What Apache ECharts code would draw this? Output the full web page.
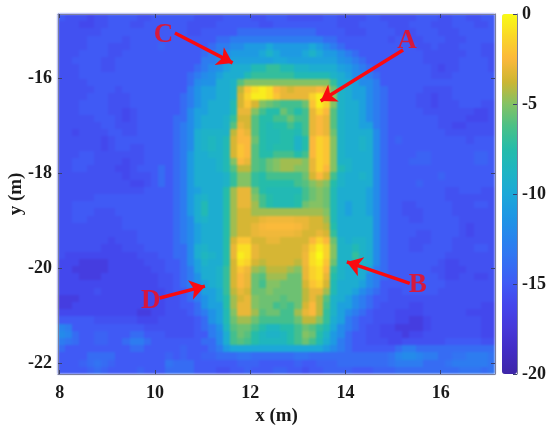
<!DOCTYPE html>
<html>
<head>
<meta charset="utf-8">
<style>
  html, body { margin: 0; padding: 0; background: #fff; }
  #main { width: 550px; height: 430px; }
  /* the map sits alone on the bottom canvas layer, soft like the source image */
  #main canvas:first-child { filter: blur(1.1px); }
</style>
<script src="https://cdn.jsdelivr.net/npm/echarts@6/dist/echarts.min.js"></script>
</head>
<body>
<div id="main"></div>
<script>
// axis extents in metres and dB range of the colour bar
const xExtent = [7.965, 17.14]
const yExtent = [-22.23, -14.65]
const xTicks = [8, 10, 12, 14, 16]
const yTicks = [-22, -20, -18, -16]
const colorTicks = [-20, -15, -10, -5, 0]

// parula (bottom to top, every 1.25 dB)
const barColors = ['#3e26a8', '#422cc3', '#4638d8', '#4444eb', '#405af5', '#3470f3', '#2884ee', '#1e96e4', '#1ca8d8', '#1eb4c3', '#25bcaa', '#4bc087', '#84c264', '#cdb632', '#fbb83c', '#fad728', '#f9fb15']

// annotations in data coordinates
const arrowNames = ['A', 'B', 'C', 'D']
const arrowFrom = [[15.21, -15.41], [15.35, -20.32], [10.42, -15.05], [10.1, -20.63]]
const arrowTo = [[13.48, -16.48], [14.03, -19.87], [11.63, -15.68], [11.05, -20.38]]
const labelAt = [[15.29, -15.2], [15.52, -20.34], [10.18, -15.09], [9.91, -20.69]]

// map values, top row first, left to right
const rows = [
[-15,-15.5,-15.5,-15.5,-16,-15.5,-15.5,-15,-15,-15,-15,-15.5,-15.5,-15,-15, -15,-15,-15,-15,-15.5,-15.5,-15.5,-15.5,-15,-15,-15,-15,-15.5,-15.5,-15,-15,-15,-15.5,-15.5,-15.5,-15.5,-15.5,-15,-15,-15.5,-15.5,-15.5,-15.5,-15,-15,-15.5,-15.5, -15.5,-15.5,-15.5,-15,-15,-15,-15.5,-15.5,-15,-15,-15.5,-15.5,-15,-15],
[-15.5,-15.5,-15.5,-16,-16,-15.5,-15.5,-15,-15,-15,-15.5,-15.5,-15,-15,-15, -15,-15,-15,-15.5,-15.5,-15.5,-15.5,-15,-15,-15,-15,-15,-15,-15.5,-15.5,-15,-15,-15,-15,-15,-15,-15,-15,-15,-15.5,-15.5,-15.5,-15,-15,-15,-15,-15.5, -15.5,-15.5,-15,-15,-15,-15.5,-15.5,-15.5,-15,-15,-15,-15.5,-15.5,-15],
[-15.5,-15.5,-15.5,-15.5,-15.5,-15.5,-15,-15,-15,-15,-15,-15,-15,-15,-15, -15,-15,-15,-15.5,-15.5,-15,-15,-15,-15,-15,-14,-14,-14,-14,-14,-14,-14,-14,-14,-14,-14,-15,-15,-15,-15,-15.5,-15.5,-15.5,-15,-15,-15,-15, -15.5,-15.5,-15.5,-15,-15,-15,-15.5,-15.5,-15.5,-15,-15,-15,-15,-15],
[-15.5,-15.5,-15.5,-15.5,-15,-15,-15,-15,-15,-15.5,-15,-15,-15,-15,-15, -15,-15,-15,-15,-15,-15,-15,-14,-14,-13,-13,-13,-13,-13,-13,-13,-13,-13,-13,-13,-13,-13,-14,-14,-15,-15,-15,-15,-15,-15,-15,-15.5, -15,-15,-15.5,-15.5,-15,-15,-15,-15.5,-15.5,-15.5,-15,-15,-15,-15],
[-15.5,-15.5,-15.5,-15.5,-15,-15,-15,-15.5,-15.5,-15.5,-15,-15,-15,-15,-14.5, -15,-15,-15,-15,-15,-15,-14,-13,-13,-12,-12,-11,-11,-11,-10,-11,-11,-11,-11,-11,-10,-11,-12,-13,-14,-15,-15,-15,-15,-15,-15,-15, -15,-15,-15,-15.5,-15.5,-15,-15.5,-15.5,-15.5,-15,-15,-15,-15.5,-15.5],
[-15.5,-15.5,-15.5,-15,-15,-15,-15,-15.5,-15.5,-15,-15,-15,-15,-15,-15, -15,-15,-15,-15,-15,-14,-13,-13,-12,-11,-11,-11,-11,-10,-9,-10,-11,-11,-11,-10,-9,-10,-11,-11,-12,-13,-14,-15,-15,-15,-15,-15, -15,-15,-15,-15,-15.5,-15.5,-15.5,-15.5,-15.5,-15.5,-15,-15,-15.5,-15.5],
[-15.5,-15.5,-15,-15,-15,-15,-15.5,-15.5,-15,-15,-15,-15,-15,-15,-15, -15,-15,-15,-15,-15,-13,-13,-12,-11.5,-10.5,-10.5,-10.5,-10.5,-10.5,-10.5,-10,-10,-10.5,-10.5,-10.5,-10.5,-10.5,-10.5,-10.5,-11.5,-12,-13,-14,-15,-15,-15,-15, -15,-15,-15,-15,-15.5,-15.5,-15.5,-15.5,-15.5,-15,-15,-15,-15,-15.5],
[-15.5,-15.5,-15.5,-15,-15,-15,-15.5,-15.5,-15,-15,-15,-15,-15,-15,-15, -15,-15,-15,-15,-14,-13,-12,-11.5,-10.5,-9.5,-9.5,-9.5,-8,-8,-7,-7,-8,-8,-9,-9,-9.5,-9.5,-9.5,-9.5,-10.5,-11,-12,-13,-14,-15,-15,-15, -15,-15,-15,-15,-15,-15.5,-16,-15.5,-15.5,-15,-15,-15,-15,-15.5],
[-15.5,-15.5,-15.5,-15,-15,-15,-15,-15,-15,-15,-15,-15,-15,-15,-15, -15,-15,-15,-14,-13,-12,-11.5,-10.5,-9.5,-9.5,-9.5,-8,-7,-7,-7,-7,-7,-7,-8,-8,-8,-8,-8,-9,-9.5,-10.5,-12,-12,-13,-14,-15,-15, -15,-15,-15,-15,-15,-15.5,-15.5,-15.5,-15,-15,-15,-15,-15,-15],
[-15.5,-15.5,-15.5,-15.5,-15,-15,-15,-15,-15,-15,-15,-15,-15,-15,-15, -15,-15,-15,-14,-12,-11.5,-11.5,-9.5,-9.5,-9,-6,-5,-5,-5,-5,-5,-5,-5,-5,-5,-5,-5,-5,-7,-9.5,-9.5,-10.5,-12,-12,-13,-15,-15, -15,-15,-15,-15,-15,-15,-15,-15,-15,-15,-15,-15,-15,-15],
[-15.5,-15.5,-15.5,-15.5,-15.5,-15,-15,-15,-15.5,-15,-15,-15,-15,-15,-15, -15,-15,-15,-13,-11.5,-10.5,-10.5,-9.5,-9.5,-9,-4,-2,-1,-0.5,-1,-2.5,-3,-3.5,-3,-3,-3,-2.5,-3,-5.5,-9,-9.5,-10.5,-10.5,-12,-13,-14,-15, -15,-15,-15,-15,-15.5,-15.5,-15.5,-15.5,-15,-15,-15,-15,-15,-15],
[-15.5,-15.5,-15.5,-15.5,-15,-15,-15,-15.5,-15.5,-15.5,-15,-15,-15,-15,-15, -15,-15,-14,-13,-11.5,-10.5,-10.5,-9.5,-9.5,-9,-3.5,-1.5,-0.5,-0.5,-1,-2,-3,-3,-3,-3,-1.5,-0.5,-1.5,-5,-9,-9.5,-10.5,-10.5,-12,-13,-14,-15, -15,-15,-15,-15.5,-15.5,-16,-15.5,-15.5,-15,-15,-15,-15,-15,-15],
[-15.5,-15.5,-15.5,-15,-15,-15,-15,-15.5,-15.5,-15.5,-15,-15,-15,-15,-15, -15,-15,-14,-13,-11.5,-10.5,-9.5,-9.5,-9.5,-8,-3.5,-2,-3.5,-5,-5.5,-6,-6.5,-6.5,-6.5,-5.5,-2,-0.5,-1.5,-5,-9,-9.5,-9.5,-10.5,-12,-13,-14,-15, -15,-15,-15,-15.5,-15.5,-16,-15.5,-15.5,-15.5,-15,-15,-15,-15.5,-15.5],
[-15.5,-15.5,-15.5,-15,-15,-15,-15,-15.5,-15.5,-16,-15.5,-15,-15,-15,-15, -15,-15,-14,-12,-10.5,-10.5,-9.5,-9.5,-9.5,-8,-3,-3,-5,-6.5,-7.5,-7.5,-5.5,-6.5,-7.5,-6.5,-3,-1.5,-2.5,-6,-9,-9.5,-9.5,-10.5,-12,-13,-14,-15, -15,-15,-15,-15,-15.5,-15.5,-15.5,-15.5,-15.5,-15.5,-15.5,-16,-16,-15.5],
[-15.5,-15.5,-15.5,-15.5,-15.5,-15,-15,-15,-15.5,-16,-15.5,-15,-15,-15,-15, -15,-14,-14,-12,-10.5,-9.5,-9.5,-9.5,-9,-7,-3.5,-3.5,-6,-7.5,-7.5,-6.5,-6.5,-5.5,-6.5,-6.5,-3,-2.5,-3,-6,-9,-9.5,-9.5,-10.5,-12,-13,-14,-15, -15,-15,-15,-15,-15,-15,-15.5,-15.5,-15.5,-15.5,-16,-16,-16,-15.5],
[-15.5,-15.5,-15.5,-15.5,-15.5,-15.5,-15,-15,-15.5,-15.5,-15.5,-15,-15,-15,-15, -15,-14,-13,-12,-10.5,-9.5,-9.5,-9.5,-9,-6,-3,-3.5,-6,-7.5,-8,-7.5,-7.5,-6.5,-7.5,-6.5,-3,-2.5,-3,-6,-9,-9.5,-9.5,-10.5,-10.5,-13,-14,-15, -15,-15,-15,-15,-15,-15,-15.5,-15.5,-16,-16,-15.5,-15.5,-15.5,-15.5],
[-15.5,-15.5,-16,-15.5,-15.5,-15.5,-15.5,-15,-15,-15.5,-15.5,-15,-15,-15,-15, -15,-14,-13,-12,-9.5,-9,-9,-9,-9,-4,-2.5,-3,-6,-7.5,-8,-8,-7.5,-7.5,-8,-6.5,-3,-2.5,-3,-5.5,-9,-9.5,-9.5,-9.5,-9.5,-12,-14,-15, -15,-15,-15,-15,-15,-15,-15,-15.5,-15.5,-15.5,-15.5,-15.5,-15.5,-15.5],
[-15.5,-15.5,-15.5,-15.5,-15.5,-15.5,-16,-15.5,-15,-15,-15,-15,-15,-15,-15, -15,-14,-13,-12,-9.5,-9,-8.5,-9,-8,-3.5,-2.5,-2.5,-5.5,-7.5,-8,-8,-7.5,-7.5,-9,-7.5,-2.5,-1.5,-2,-5,-9,-9.5,-9.5,-9,-9.5,-12,-14,-15, -14.5,-15,-15,-15,-15,-15,-15,-15,-15,-15,-15.5,-15,-15,-15],
[-15.5,-15.5,-15.5,-15.5,-15.5,-15.5,-16,-15.5,-15,-15,-15.5,-15.5,-15,-15,-15, -15,-14,-13,-12,-9.5,-9,-8.5,-9,-8,-3.5,-2,-2.5,-6,-7.5,-8,-7.5,-7.5,-7.5,-9,-7.5,-2.5,-1.5,-2,-5,-9,-9.5,-9.5,-9,-9.5,-12,-14,-15, -15,-15,-15,-15,-15,-15,-15,-15,-15,-15,-15,-15,-15,-15],
[-15.5,-15.5,-15.5,-15,-15,-15.5,-15.5,-15.5,-15.5,-15.5,-15.5,-15.5,-15,-15,-15, -15,-14,-13,-11,-9.5,-9.5,-9,-9,-8,-3.5,-2,-2.5,-6,-7.5,-7.5,-6.5,-6.5,-6.5,-7.5,-6.5,-2.5,-1.5,-2,-5,-9,-9.5,-9.5,-9.5,-9.5,-12,-14,-15, -15,-15,-15,-14.5,-14.5,-15,-15,-15,-15,-15,-15,-14.5,-14.5,-15],
[-15.5,-15.5,-15,-15,-15,-15.5,-15.5,-15.5,-15.5,-16,-15.5,-15.5,-15,-15,-15, -15,-14,-13,-11,-9.5,-9.5,-9.5,-9,-8,-5,-2.5,-3,-6,-6.5,-5.5,-5,-4.5,-4.5,-4.5,-5,-3,-1.5,-2,-5,-9,-9,-9.5,-9.5,-9.5,-12,-14,-15, -15,-15,-14.5,-14.5,-14.5,-15,-15,-15,-15,-15,-15,-14.5,-14.5,-15],
[-15.5,-15.5,-15,-15,-15.5,-15.5,-15.5,-15.5,-16,-16,-15.5,-15,-15,-15,-14, -15,-14,-13,-11,-9.5,-9.5,-9.5,-9,-8,-6,-4,-4,-6,-6.5,-5.5,-5,-4.5,-4.5,-5,-5,-3,-1.5,-2.5,-5,-8,-9,-9.5,-9.5,-9.5,-12,-14,-15, -15,-15,-15,-15,-15,-15,-15,-15,-15,-15,-15,-15,-15,-15],
[-15.5,-15.5,-15.5,-15.5,-15.5,-15.5,-15.5,-15.5,-15.5,-16,-15.5,-15.5,-15.5,-15,-14, -15,-14,-13,-11,-9.5,-9.5,-9.5,-9.5,-9,-7,-5,-5,-7,-7.5,-6.5,-6.5,-6.5,-6.5,-6.5,-5.5,-3.5,-2.5,-3.5,-6.5,-9,-9.5,-9.5,-9,-9.5,-12,-14,-15, -15,-15,-15,-15,-15,-15,-14.5,-15,-15,-15,-15,-15,-15,-15],
[-15.5,-15.5,-15.5,-15.5,-15.5,-15.5,-15.5,-15.5,-15.5,-15.5,-16,-16,-15.5,-15,-14, -15,-14,-13,-11,-9.5,-9.5,-9.5,-9.5,-9,-7,-5,-5,-7,-7.5,-7.5,-7.5,-7.5,-7.5,-6.5,-6,-5,-4.5,-5,-7.5,-9,-9.5,-9.5,-9.5,-9.5,-12,-14,-15, -15,-15,-15,-14.5,-15,-15,-15,-15,-15,-15,-15,-15,-15,-15],
[-15.5,-15.5,-15.5,-15.5,-15.5,-15.5,-15.5,-15.5,-15.5,-15.5,-15.5,-15.5,-15,-15,-15, -15,-14,-13,-11,-10.5,-9.5,-9.5,-9.5,-7.5,-4.5,-3,-3,-5.5,-7.5,-8,-8,-8,-8,-8,-6.5,-5.5,-5,-5.5,-8,-9.5,-9.5,-9.5,-9.5,-10.5,-12,-14,-15, -15,-15,-15,-15,-15,-15,-15,-15.5,-15.5,-15,-15,-15,-15.5,-15.5],
[-15.5,-15.5,-15.5,-15.5,-15.5,-15,-15,-15,-15,-15,-15,-15,-15,-15,-15, -15,-14,-13,-11,-9.5,-9,-9.5,-9.5,-7.5,-4.5,-3,-3,-5,-6.5,-7.5,-8,-8,-8,-7.5,-6.5,-5.5,-5,-5.5,-8,-9.5,-9.5,-9.5,-9.5,-10.5,-12,-14,-15, -15,-15,-15,-15,-15,-15,-15,-15.5,-15.5,-15.5,-15.5,-15.5,-15.5,-15.5],
[-15.5,-15.5,-15,-15,-15,-15,-15,-15,-15,-15,-15,-15,-15,-15,-15, -15,-14,-13,-11,-9.5,-8,-9.5,-9.5,-7.5,-4.5,-3,-3,-4.5,-6.5,-7.5,-8,-8,-8,-7.5,-5.5,-5,-5,-5.5,-8,-9.5,-10.5,-9.5,-9.5,-10.5,-12,-14,-15, -15,-15.5,-15.5,-15,-15,-15,-15,-15,-15.5,-15.5,-15.5,-15,-15,-15.5],
[-15.5,-15.5,-15,-15,-15,-15.5,-15.5,-15.5,-15,-15,-15,-15,-15,-15,-15, -15,-14,-13,-11,-9.5,-8,-9.5,-9.5,-7.5,-4.5,-3.5,-3.5,-4.5,-4.5,-4.5,-4.5,-4.5,-4.5,-4.5,-4.5,-4.5,-4.5,-5,-8,-9.5,-10.5,-9.5,-9.5,-10.5,-12,-14,-15, -15,-15.5,-15.5,-15.5,-15,-15,-15,-15,-15.5,-15.5,-15.5,-15.5,-15.5,-15.5],
[-15.5,-15.5,-15,-15,-15.5,-15.5,-15.5,-15.5,-15.5,-15,-15,-15,-15,-15,-15, -15,-14,-13,-12,-9.5,-9,-9.5,-9.5,-7.5,-4.5,-3.5,-3.5,-3.5,-3,-2.8,-2.8,-2.8,-2.8,-3,-3,-3.5,-3.5,-4.5,-8,-9.5,-9.5,-9.5,-9.5,-9.5,-12,-14,-15, -15,-15,-15.5,-15.5,-15,-15,-15,-15,-15,-15.5,-15.5,-15.5,-15.5,-15.5],
[-15.5,-15.5,-15.5,-15.5,-15.5,-15.5,-15.5,-15.5,-15.5,-15,-15,-15,-15,-15,-15, -15,-14,-13,-12,-10.5,-9.5,-9.5,-9.5,-7.5,-4.5,-3.5,-3.5,-3,-2.6,-2.4,-2.4,-2.4,-2.4,-2.6,-3,-3.5,-3.5,-4,-7.5,-9.5,-9.5,-9.5,-9.5,-9.5,-12,-14,-15, -15,-15,-15,-15,-15,-15,-15,-15,-15,-15.5,-16,-15.5,-15.5,-15.5],
[-15.5,-15.5,-15.5,-15.5,-15.5,-15.5,-15.5,-15.5,-15.5,-15.5,-15.5,-15,-15,-15,-15, -15,-14,-13,-12,-10.5,-9.5,-9.5,-9.5,-7.5,-4.5,-3.5,-3.5,-3,-2.8,-2.8,-2.8,-2.8,-2.8,-3,-3.5,-3.5,-3,-3.5,-7,-9.5,-9.5,-9.5,-9.5,-9.5,-12,-14,-15, -15,-15,-15,-15.5,-15.5,-15,-15,-15,-15,-15.5,-16,-15.5,-15.5,-15.5],
[-15.5,-15.5,-15.5,-15.5,-15.5,-15.5,-15.5,-16,-15.5,-15.5,-15.5,-15,-15,-15,-15, -15,-14,-13,-12,-10.5,-9.5,-9.5,-9.5,-7.5,-3.5,-2,-2,-3.5,-3.5,-3,-3,-3.5,-3.5,-3.5,-3.5,-2.5,-1.5,-2.5,-5.5,-9,-9.5,-9,-9,-9.5,-12,-14,-15, -15,-15,-15.5,-15.5,-15.5,-15,-15,-15,-15.5,-15.5,-15.5,-15.5,-15.5,-15.5],
[-15.5,-15.5,-15.5,-15.5,-15.5,-15.5,-16,-16,-16,-15.5,-15.5,-15.5,-15,-15,-15, -15,-14,-14,-12,-9.5,-9,-9.5,-9.5,-7.5,-3,-1,-1,-3,-3.5,-3.5,-3.5,-3.5,-3.5,-3.5,-3,-1.5,-0.5,-1.5,-5,-9,-9,-8,-9,-9.5,-12,-14,-15, -15,-15,-15.5,-15.5,-15,-15,-15,-15,-15.5,-15.5,-15.5,-15,-15,-15.5],
[-15.5,-16,-16,-16,-16,-16,-16,-16,-16,-16,-16,-15.5,-15.5,-15.5,-15, -15,-14,-14,-12,-9.5,-8.5,-9,-9.5,-7.5,-3,-0.5,-1,-3,-3.5,-3.5,-3.5,-3.5,-3.5,-3.5,-2.8,-1,0,-1.5,-5,-9,-9,-7,-9,-9.5,-12,-14,-15, -15,-15,-15,-15,-15,-15,-15,-15.5,-15.5,-15.5,-15.5,-15.5,-15.5,-15.5],
[-16,-16,-16,-17,-17,-17,-17,-16,-16,-16,-16,-16,-15.5,-15.5,-15.5, -15,-15,-14,-12,-10.5,-9,-9.5,-9.5,-7.5,-3.5,-1,-1.5,-3.5,-4,-3.5,-3.5,-3.5,-3.5,-4,-2.8,-1,-0.5,-2,-5.5,-9,-9,-8,-9,-9.5,-12,-14,-15, -15,-15,-15,-15,-15,-15,-15.5,-16,-16,-15.5,-15.5,-15.5,-15.5,-15.5],
[-16,-16,-17,-17,-17,-17,-17,-16,-16,-16,-16,-16,-16,-15.5,-15.5, -15,-15,-14,-13,-10.5,-9.5,-9.5,-9,-7,-3.5,-2,-2.8,-4.5,-5,-4,-4,-4,-4.5,-5,-3,-1.5,-1,-2.5,-7,-9,-9.5,-9.5,-9.5,-10.5,-13,-14,-15, -15,-15,-15,-15,-15,-15.5,-15.5,-16,-16,-16,-15.5,-15.5,-15.5,-15.5],
[-16,-16,-16,-17,-17,-17,-16,-16,-16,-16,-16,-16,-16,-16,-15.5, -15.5,-15,-14,-13,-11.5,-9.5,-9.5,-9,-7,-3.5,-2.5,-3,-5.5,-6,-4.5,-4.5,-4.5,-5.5,-5.5,-3,-1.5,-1,-3,-7.5,-9,-9.5,-9.5,-9.5,-12,-13,-14,-15, -15,-15,-15,-15,-15,-15,-15.5,-16,-16,-15.5,-15.5,-16,-16,-15.5],
[-16,-16,-16,-16,-16,-16,-16,-16,-16,-16,-16,-16,-16,-16,-15.5, -15.5,-15,-14,-13,-11.5,-10.5,-9.5,-9,-7,-3.5,-2.5,-3,-5.5,-6.5,-5,-5,-5.5,-5.5,-5.5,-3.5,-2,-1.5,-3.5,-8,-9.5,-9.5,-9.5,-10.5,-12,-13,-15,-15, -15,-15,-15,-15,-15,-15,-15,-15.5,-15.5,-15.5,-15.5,-15.5,-15.5,-15.5],
[-16,-16,-16,-16,-16,-15.5,-16,-16,-16,-16,-16,-16,-16,-16,-16, -15.5,-15,-15,-14,-13,-10.5,-10.5,-9.5,-7,-4,-3,-3.5,-5.5,-5.5,-5,-5.5,-5.5,-5.5,-5.5,-4,-3,-3,-4.5,-8,-9.5,-9.5,-10.5,-12,-13,-14,-15,-15.5, -15.5,-15,-15,-15,-15,-15,-15.5,-15.5,-15.5,-15.5,-15.5,-15.5,-15.5,-15.5],
[-17,-17,-17,-16,-16,-16,-16,-16,-16,-16,-16,-16,-16,-16,-16, -15.5,-15.5,-15,-14,-13,-11.5,-10.5,-9.5,-7.5,-4.5,-3.5,-3,-5,-5.5,-5.5,-5.5,-6,-5.5,-5.5,-4,-3,-4,-6,-9,-9.5,-10.5,-12,-13,-14,-15,-15,-15.5, -15.5,-15.5,-15.5,-15.5,-15.5,-15.5,-15.5,-15.5,-15.5,-15.5,-15.5,-15.5,-15.5,-15.5],
[-17,-17,-16,-16,-16,-16,-16,-16,-16,-16,-16,-16,-16,-16,-16, -15.5,-15.5,-15,-15,-14,-11.5,-10.5,-10.5,-7.5,-4.5,-3,-3,-5,-5.5,-5.5,-6.5,-6,-6.5,-5.5,-3.5,-2.5,-4,-6.5,-9,-10.5,-10.5,-12,-13,-14,-15,-15.5,-15.5, -15.5,-15.5,-16,-16,-15.5,-15.5,-15.5,-15.5,-15.5,-15.5,-15.5,-15.5,-16,-16],
[-16,-16,-16,-16,-16,-16,-16,-16,-16,-16,-16,-17,-17,-16,-16, -15.5,-15.5,-15.5,-15,-14,-13,-11.5,-10.5,-8,-5,-3,-3,-4.5,-6,-5.5,-5.5,-6.5,-6.5,-4.5,-3,-2.5,-4,-7,-9,-10.5,-12,-13,-14,-15,-15.5,-15.5,-15.5, -16,-16,-16,-16,-15.5,-15.5,-15.5,-15.5,-15.5,-15.5,-16,-16,-16,-16],
[-15,-15,-15,-15,-15,-15.5,-15.5,-15.5,-15.5,-15.5,-15.5,-16,-16,-16,-15.5, -15.5,-15.5,-15.5,-15.5,-15,-14,-11.5,-10.5,-8,-5.5,-4.5,-4.5,-5.5,-6.5,-6.5,-6.5,-6.5,-6.5,-5.5,-4,-4,-5,-7,-9.5,-10.5,-13,-14,-15,-15,-15.5,-15.5,-15.5, -16,-16,-17,-17,-16,-15.5,-15.5,-15.5,-15.5,-15.5,-15.5,-15.5,-16,-16],
[-12.5,-13,-15,-15,-15,-15,-15,-15,-15,-15,-15,-15,-15.5,-15.5,-15.5, -15.5,-15.5,-15.5,-15.5,-15,-14,-13,-11.5,-8.5,-6,-5.5,-5.5,-6.5,-7.5,-8.5,-8.5,-7.5,-7.5,-6.5,-5.5,-6,-7,-8,-10,-12,-13,-14,-15,-15.5,-15.5,-16,-16, -17,-17,-17,-17,-16,-15.5,-15.5,-15.5,-15.5,-15.5,-15.5,-15.5,-16,-16],
[-12,-12.5,-14,-15,-15,-14.5,-14.5,-15,-15,-15,-14,-14,-15,-15,-15, -15.5,-15.5,-15.5,-15.5,-15,-15,-13,-12,-9.5,-6.5,-5.5,-6,-7.5,-8.5,-9,-9,-8.5,-7.5,-6.5,-5,-5.5,-7.5,-9,-11,-12,-14,-15,-15,-15.5,-15.5,-16,-16, -16,-17,-16,-16,-15.5,-15.5,-15.5,-15.5,-15.5,-15.5,-15.5,-15.5,-16,-16],
[-13,-13.5,-14,-15,-15,-14.5,-14.5,-15,-15,-14,-13,-13,-14,-15,-15, -15,-15,-15,-15,-15,-14,-14,-12,-9.5,-6.5,-6,-6.5,-7.5,-8.5,-8.5,-8.5,-8.5,-7.5,-6.5,-5.5,-6.5,-8,-9.5,-11,-13,-14,-15,-15,-15.5,-15.5,-15.5,-16, -16,-15.5,-15.5,-15.5,-15.5,-15.5,-15.5,-15,-15,-15,-15,-15,-15.5,-15.5],
[-14,-15,-15,-15,-15,-15,-15,-15,-15,-15,-14,-14,-15,-15,-15, -15,-15,-14.5,-15,-15,-15,-14,-13,-11,-10,-10,-10,-10,-10,-10,-10,-10,-10,-10,-10,-10,-10,-11,-12,-13,-14,-15,-15,-15,-15,-15,-15, -14,-13,-13,-14,-14,-14,-14,-14,-14,-14,-14,-14,-14,-14],
[-15,-15,-15,-15,-14,-14,-14,-14,-15,-15,-15,-15,-15,-15,-15, -14.5,-15,-14.5,-15,-15,-14.5,-14.5,-14,-14,-14,-13.5,-13.5,-14,-14,-14,-14,-14,-14,-13.5,-13.5,-14,-14,-14,-14,-14,-14,-14,-14,-14,-14,-14,-13.5, -12.5,-12,-12,-12.5,-13,-13,-14,-14,-13.5,-13.5,-13,-13,-13,-13.5],
[-15,-15,-15,-14.5,-14,-13.5,-14,-14.5,-15,-15,-15,-15,-15,-15,-15, -13.5,-14,-14,-14,-15,-15,-15,-15,-15,-15,-14.5,-14.5,-14.5,-15,-15,-15,-15,-15,-14.5,-15,-15,-14.5,-14.5,-14.5,-14,-14,-14,-14,-14,-14,-14,-13.5, -13,-13,-13,-13,-14,-14,-14,-13.5,-13,-13,-13,-13,-13,-13.5],
[-15,-15,-15,-15,-14.5,-14,-14.5,-15,-15,-15,-15,-14.5,-15,-15,-15, -14,-14,-14,-14,-15,-15,-15,-15.5,-15.5,-15,-15,-14.5,-15,-15,-15,-14.5,-14.5,-15,-15,-15.5,-15,-15,-14.5,-14.5,-14.5,-14.5,-15,-15,-15,-14.5,-14.5,-14.5, -14,-14,-14,-14,-14,-14,-14,-14,-14,-13.5,-13.5,-13.5,-14,-13.5]
]

// cell size follows from the axis extents and the grid shape
const nRows = rows.length
const nCols = rows[0].length
const cellW = (xExtent[1] - xExtent[0]) / nCols
const cellH = (yExtent[1] - yExtent[0]) / nRows

const cells = []
rows.forEach((row, j) => {
	row.forEach((v, i) => {
		cells.push([xExtent[0] + cellW * (i + 0.5), yExtent[1] - cellH * (j + 0.5), v])
	})
})

const serif = '"Liberation Serif", "Times New Roman", serif'
const frameColor = '#7b7f9c'
const tickColor = '#3a3f6e'
const textColor = '#1a1a1a'

function renderCell(params, api) {
	const x = api.value(0), y = api.value(1)
	const a = api.coord([x - cellW / 2, y + cellH / 2])
	const b = api.coord([x + cellW / 2, y - cellH / 2])
	const left = Math.round(a[0]), top = Math.round(a[1])
	return {
		type: 'rect',
		shape: { x: left, y: top, width: Math.round(b[0]) - left, height: Math.round(b[1]) - top },
		style: { fill: api.visual('color') }
	}
}

const chart = echarts.init(document.getElementById('main'), null, { renderer: 'canvas' })

const tickStyle = { show: true, inside: true, length: 4, lineStyle: { color: tickColor, width: 1 } }
const lineStyle = { show: true, onZero: false, lineStyle: { color: frameColor, width: 1 } }

chart.setOption({
	animation: false,
	grid: [
		{ left: 58, top: 14, width: 437, height: 360, outerBoundsMode: 'none' },
		{ left: 502, top: 14, width: 15, height: 360, outerBoundsMode: 'none' }
	],
	xAxis: [
		{
			type: 'value', gridIndex: 0, position: 'bottom', min: xExtent[0], max: xExtent[1], zlevel: 1,
			name: 'x (m)', nameLocation: 'middle', nameGap: 32,
			nameTextStyle: { fontFamily: serif, fontSize: 19, fontWeight: 'bold', color: textColor },
			axisLine: lineStyle, splitLine: { show: false },
			axisTick: Object.assign({ customValues: xTicks }, tickStyle),
			axisLabel: { customValues: xTicks, margin: 10, fontFamily: serif, fontSize: 18, fontWeight: 'bold', color: textColor, showMinLabel: true, showMaxLabel: true }
		},
		{
			type: 'value', gridIndex: 0, position: 'top', min: xExtent[0], max: xExtent[1], zlevel: 1,
			axisLine: lineStyle, splitLine: { show: false },
			axisTick: Object.assign({ customValues: xTicks }, tickStyle),
			axisLabel: { show: false }
		},
		{
			type: 'value', gridIndex: 1, min: 0, max: 1, show: false
		}
	],
	yAxis: [
		{
			type: 'value', gridIndex: 0, position: 'left', min: yExtent[0], max: yExtent[1], zlevel: 1,
			name: 'y (m)', nameLocation: 'middle', nameGap: 32, nameMoveOverlap: false,
			nameTextStyle: { fontFamily: serif, fontSize: 19, fontWeight: 'bold', color: textColor },
			axisLine: lineStyle, splitLine: { show: false },
			axisTick: Object.assign({ customValues: yTicks }, tickStyle),
			axisLabel: { customValues: yTicks, margin: 6, fontFamily: serif, fontSize: 18, fontWeight: 'bold', color: textColor }
		},
		{
			type: 'value', gridIndex: 0, position: 'right', min: yExtent[0], max: yExtent[1], zlevel: 1,
			axisLine: lineStyle, splitLine: { show: false },
			axisTick: Object.assign({ customValues: yTicks }, tickStyle),
			axisLabel: { show: false }
		},
		{
			type: 'value', gridIndex: 1, position: 'right', min: colorTicks[0], max: colorTicks[4], zlevel: 1, z: 10,
			axisLine: lineStyle, splitLine: { show: false },
			axisTick: Object.assign({ customValues: colorTicks }, tickStyle),
			axisLabel: { customValues: colorTicks, margin: 5, fontFamily: serif, fontSize: 18, fontWeight: 'bold', color: textColor }
		}
	],
	visualMap: {
		type: 'continuous', seriesIndex: 0, dimension: 2, zlevel: 1,
		min: colorTicks[0], max: colorTicks[4],
		left: 502, top: 14, itemWidth: 15, itemHeight: 360, padding: 0,
		calculable: false, realtime: false, text: null, showLabel: false,
		textStyle: { color: 'transparent' },
		inRange: { color: barColors }
	},
	series: [
		{
			type: 'custom', name: 'map', xAxisIndex: 0, yAxisIndex: 0, clip: true,
			renderItem: renderCell, data: cells,
			encode: { x: 0, y: 1 }, silent: true, zlevel: 0
		},
		{
			type: 'scatter', name: 'labels', xAxisIndex: 0, yAxisIndex: 0, symbolSize: 0, silent: true, zlevel: 1,
			data: labelAt.map((p, i) => ({
				value: p,
				label: {
					show: true, position: 'top', distance: 0, offset: [0, 14], formatter: arrowNames[i],
					fontFamily: serif, fontSize: 27, fontWeight: 'bold', color: '#fa0a10'
				}
			})),
			markLine: {
				silent: true, animation: false, symbol: ['none', 'arrow'], symbolSize: 15, precision: 4,
				label: { show: false },
				lineStyle: { color: '#fa0a10', width: 3.5, type: 'solid' },
				data: arrowFrom.map((p, i) => [{ coord: p }, { coord: arrowTo[i] }])
			}
		}
	]
})
</script>
</body>
</html>
